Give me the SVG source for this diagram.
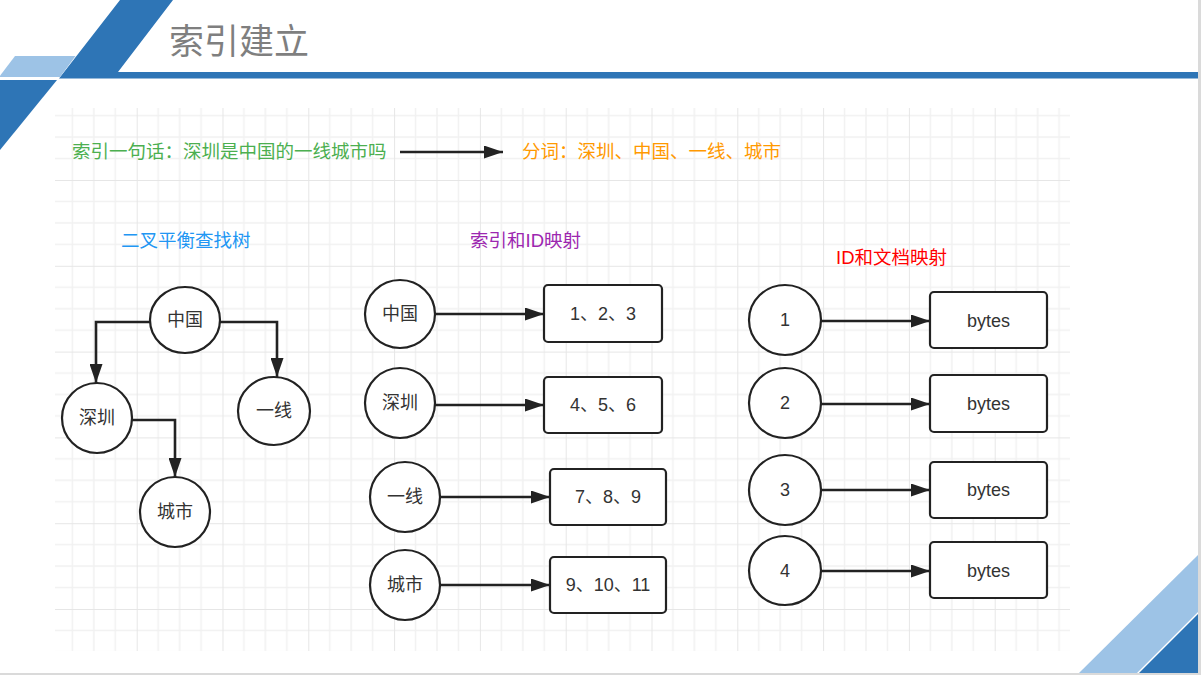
<svg xmlns="http://www.w3.org/2000/svg" width="1201" height="675" viewBox="0 0 1201 675">
<defs>
<style>
.t{font-family:"Liberation Sans","Noto Sans CJK SC",sans-serif;font-size:18px;text-anchor:middle;dominant-baseline:central;fill:#333}
.h{font-family:"Liberation Sans","Noto Sans CJK SC",sans-serif;font-size:18.5px}
.c{fill:#fff;stroke:#222;stroke-width:2.2}
.b{fill:#fff;stroke:#222;stroke-width:2.2}
.e{fill:none;stroke:#222;stroke-width:2.6}
.mi{stroke:#f1f1f1;stroke-width:1.5}
.ma{stroke:#e6e6e6;stroke-width:2}
</style>
<marker id="ah" markerUnits="userSpaceOnUse" markerWidth="19" markerHeight="13" refX="19" refY="6.5" orient="auto">
<path d="M0,0 L19,6.5 L0,13 Z" fill="#222"/>
</marker>
<pattern id="grid" patternUnits="userSpaceOnUse" x="136.7" y="180" width="85.8" height="85.8">
<line class="mi" x1="21.45" y1="0" x2="21.45" y2="85.8"/>
<line class="mi" x1="42.9" y1="0" x2="42.9" y2="85.8"/>
<line class="mi" x1="64.35" y1="0" x2="64.35" y2="85.8"/>
<line class="mi" x1="0" y1="21.45" x2="85.8" y2="21.45"/>
<line class="mi" x1="0" y1="42.9" x2="85.8" y2="42.9"/>
<line class="mi" x1="0" y1="64.35" x2="85.8" y2="64.35"/>
<line class="ma" x1="0" y1="0" x2="0" y2="85.8"/>
<line class="ma" x1="0" y1="0" x2="85.8" y2="0"/>
</pattern>
</defs>
<rect width="1201" height="675" fill="#fff"/>
<rect x="55" y="108" width="1015" height="543" fill="url(#grid)"/>
<g id="header">
<polygon points="120,0 173,0 118,72 1198,72 1198,78.5 59,78.5" fill="#2e75b6"/>
<polygon points="15,56 75.5,56 60,77 -1,77" fill="#9dc3e6"/>
<polygon points="0,80 57,80 0,150" fill="#2e75b6"/>
<text x="169" y="54" font-family="'Noto Sans CJK SC',sans-serif" font-size="35" fill="#7f7f7f">索引建立</text>
</g>
<g id="corner">
<polygon points="1079,673 1198,555 1198,612 1137,673" fill="#9dc3e6"/>
<polygon points="1139,673 1198,614 1198,673" fill="#2e75b6"/>
</g>
<line x1="1199.5" y1="0" x2="1199.5" y2="675" stroke="#dadada" stroke-width="3"/>
<line x1="0" y1="674" x2="1201" y2="674" stroke="#dadada" stroke-width="2"/>
<g id="captions">
<text class="h" x="72" y="158" fill="#4caf50">索引一句话：深圳是中国的一线城市吗</text>
<text class="h" x="522" y="158" fill="#ff9900">分词：深圳、中国、一线、城市</text>
<text class="h" x="121" y="247" fill="#2196f3">二叉平衡查找树</text>
<text class="h" x="470" y="247" fill="#9c27b0">索引和ID映射</text>
<text class="h" x="836" y="264" fill="#ff0000">ID和文档映射</text>
</g>
<g id="connectors">
<line class="e" x1="400" y1="152" x2="503" y2="152" marker-end="url(#ah)"/>
<path class="e" d="M150,322 H96 V383" marker-end="url(#ah)"/>
<path class="e" d="M220,322 H277 V377" marker-end="url(#ah)"/>
<path class="e" d="M132,420 H175 V477" marker-end="url(#ah)"/>
<line class="e" x1="435" y1="314" x2="544" y2="314" marker-end="url(#ah)"/>
<line class="e" x1="435" y1="405" x2="544" y2="405" marker-end="url(#ah)"/>
<line class="e" x1="440" y1="497" x2="550" y2="497" marker-end="url(#ah)"/>
<line class="e" x1="440" y1="585" x2="550" y2="585" marker-end="url(#ah)"/>
<line class="e" x1="821" y1="321" x2="930" y2="321" marker-end="url(#ah)"/>
<line class="e" x1="821" y1="404" x2="930" y2="404" marker-end="url(#ah)"/>
<line class="e" x1="821" y1="490" x2="930" y2="490" marker-end="url(#ah)"/>
<line class="e" x1="821" y1="571" x2="930" y2="571" marker-end="url(#ah)"/>
</g>
<g id="tree-zhongguo"><ellipse class="c" cx="185" cy="320" rx="35" ry="33"/><text class="t" x="185" y="320">中国</text></g>
<g id="tree-shenzhen"><ellipse class="c" cx="97" cy="418" rx="35" ry="35"/><text class="t" x="97" y="418">深圳</text></g>
<g id="tree-yixian"><ellipse class="c" cx="274" cy="411" rx="36" ry="34"/><text class="t" x="274" y="411">一线</text></g>
<g id="tree-chengshi"><ellipse class="c" cx="175" cy="512" rx="35" ry="35"/><text class="t" x="175" y="512">城市</text></g>
<g id="idx-zhongguo"><ellipse class="c" cx="400" cy="314" rx="35" ry="34"/><text class="t" x="400" y="314">中国</text></g>
<g id="idx-shenzhen"><ellipse class="c" cx="400" cy="403" rx="35" ry="35"/><text class="t" x="400" y="403">深圳</text></g>
<g id="idx-yixian"><ellipse class="c" cx="405" cy="497" rx="35" ry="35"/><text class="t" x="405" y="497">一线</text></g>
<g id="idx-chengshi"><ellipse class="c" cx="405" cy="585" rx="35" ry="35"/><text class="t" x="405" y="585">城市</text></g>
<g id="ids-123"><rect class="b" x="544" y="285" width="118" height="57" rx="4"/><text class="t" x="603" y="314">1、2、3</text></g>
<g id="ids-456"><rect class="b" x="544" y="377" width="118" height="56" rx="4"/><text class="t" x="603" y="405">4、5、6</text></g>
<g id="ids-789"><rect class="b" x="550" y="469" width="116" height="56" rx="4"/><text class="t" x="608" y="497">7、8、9</text></g>
<g id="ids-91011"><rect class="b" x="550" y="557" width="116" height="56" rx="4"/><text class="t" x="608" y="585">9、10、11</text></g>
<g id="id-1"><ellipse class="c" cx="785" cy="320" rx="36" ry="35"/><text class="t" x="785" y="320">1</text></g>
<g id="id-2"><ellipse class="c" cx="785" cy="403" rx="36" ry="35"/><text class="t" x="785" y="403">2</text></g>
<g id="id-3"><ellipse class="c" cx="785" cy="490" rx="36" ry="35"/><text class="t" x="785" y="490">3</text></g>
<g id="id-4"><ellipse class="c" cx="785" cy="570.5" rx="36" ry="34.5"/><text class="t" x="785" y="570.5">4</text></g>
<g id="doc-1"><rect class="b" x="930" y="292" width="117" height="56" rx="4"/><text class="t" x="988.5" y="321">bytes</text></g>
<g id="doc-2"><rect class="b" x="930" y="375" width="117" height="57" rx="4"/><text class="t" x="988.5" y="404">bytes</text></g>
<g id="doc-3"><rect class="b" x="930" y="462" width="117" height="56" rx="4"/><text class="t" x="988.5" y="490">bytes</text></g>
<g id="doc-4"><rect class="b" x="930" y="542" width="117" height="56" rx="4"/><text class="t" x="988.5" y="570.5">bytes</text></g>
</svg>
